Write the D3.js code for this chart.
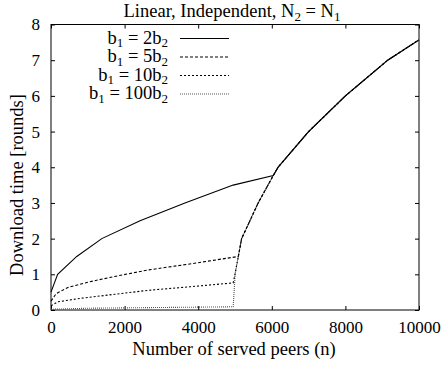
<!DOCTYPE html>
<style>
body { margin: 0; background: #fff; }
svg text { font-family: "Liberation Serif", "DejaVu Serif", serif; fill: #000; }
.axis .domain { display: none; }
.axis line { stroke: #000; }
.axis text { font-family: "Liberation Serif", "DejaVu Serif", serif; font-size: 17px; }
</style>
<svg width="443" height="365"></svg>
<script src="https://d3js.org/d3.v7.min.js"></script>
<script>

// values; every series shares the same tail once n > ~5000
var tailN = [5090, 5180, 5630, 6040, 6170, 7000, 8000, 9150, 10000],
    tailV = [1.5, 2.0, 3.0, 3.77, 4.0, 5.0, 6.0, 7.0, 7.57];

var n2 = [0, 180, 700, 1380, 2420, 3640, 4950, 6040, 6170, 7000, 8000, 9150, 10000],
    v2 = [0.5, 1.0, 1.5, 2.0, 2.5, 3.0, 3.5, 3.77, 4.0, 5.0, 6.0, 7.0, 7.57];

var n5 = [0, 140, 460, 1000, 1730, 2630, 3770].concat(tailN),
    v5 = [0.25, 0.46, 0.63, 0.78, 0.94, 1.12, 1.29].concat(tailV);

var n10 = [0, 190, 820, 1730, 2630, 3770, 4950, 5000].concat(tailN),
    v10 = [0.12, 0.23, 0.33, 0.44, 0.55, 0.65, 0.76, 1.0].concat(tailV);

var n100 = [0, 1000, 2500, 4950, 4990, 5000].concat(tailN),
    v100 = [0.02, 0.05, 0.065, 0.09, 0.75, 1.0].concat(tailV);

var labels = ["2", "5", "10", "100"];
var xTicks = [0, 2000, 4000, 6000, 8000, 10000],
    yTicks = [0, 1, 2, 3, 4, 5, 6, 7, 8];

var series = [
  {k: labels[0], n: n2, v: v2, dash: null, color: "#000"},
  {k: labels[1], n: n5, v: v5, dash: "3,2", color: "#000"},
  {k: labels[2], n: n10, v: v10, dash: "2,2", color: "#000"},
  {k: labels[3], n: n100, v: v100, dash: "1,1", color: "#555"}
];

var svg = d3.select("svg"),
    mLeft = 51, mRight = 419, mTop = 24.5, mBottom = 310;

var x = d3.scaleLinear().domain([0, 10000]).range([mLeft, mRight]);
var y = d3.scaleLinear().domain([0, 8]).range([mBottom, mTop]);

// title
var title = svg.append("text")
    .attr("x", 232).attr("y", 17)
    .attr("text-anchor", "middle")
    .style("font-size", "18.5px");
title.append("tspan").text("Linear, Independent, N");
title.append("tspan").attr("dy", 4).style("font-size", "13px").text("2");
title.append("tspan").attr("dy", -4).text(" = N");
title.append("tspan").attr("dy", 4).style("font-size", "13px").text("1");

// axes with inward, mirrored ticks
svg.append("g").attr("class", "axis")
    .attr("transform", "translate(0," + mBottom + ")")
    .call(d3.axisBottom(x).tickValues(xTicks).tickSizeInner(-4).tickSizeOuter(0).tickPadding(11).tickFormat(d3.format("d")));
svg.append("g").attr("class", "axis")
    .attr("transform", "translate(0," + mTop + ")")
    .call(d3.axisTop(x).tickValues(xTicks).tickSizeInner(-4).tickSizeOuter(0).tickFormat(""));
svg.append("g").attr("class", "axis")
    .attr("transform", "translate(" + mLeft + ",0)")
    .call(d3.axisLeft(y).tickValues(yTicks).tickSizeInner(-4).tickSizeOuter(0).tickPadding(11));
svg.append("g").attr("class", "axis")
    .attr("transform", "translate(" + mRight + ",0)")
    .call(d3.axisRight(y).tickValues(yTicks).tickSizeInner(-4).tickSizeOuter(0).tickFormat(""));

svg.append("rect")
    .attr("x", mLeft).attr("y", mTop)
    .attr("width", mRight - mLeft).attr("height", mBottom - mTop)
    .attr("fill", "none").attr("stroke", "#000");

svg.append("text")
    .attr("x", 234).attr("y", 355)
    .attr("text-anchor", "middle")
    .style("font-size", "18.5px")
    .text("Number of served peers (n)");

svg.append("text")
    .attr("transform", "translate(23,185) rotate(-90)")
    .attr("text-anchor", "middle")
    .style("font-size", "18.5px")
    .text("Download time [rounds]");

var line = d3.line().x(function(d) { return x(d[0]); }).y(function(d) { return y(d[1]); });

svg.selectAll(".curve")
  .data(series.slice().reverse())
  .enter().append("path")
    .attr("class", "curve")
    .attr("fill", "none")
    .attr("stroke", function(d) { return d.color; })
    .attr("stroke-width", 1.1)
    .attr("stroke-dasharray", function(d) { return d.dash; })
    .attr("d", function(d) { return line(d3.zip(d.n, d.v)); });

// legend
var legend = svg.selectAll(".legend")
  .data(series)
  .enter().append("g")
    .attr("class", "legend")
    .attr("transform", function(d, i) { return "translate(0," + (38.5 + i * 18.5) + ")"; });

legend.append("line")
    .attr("x1", 180).attr("x2", 229)
    .attr("stroke", function(d) { return d.color; })
    .attr("stroke-width", 1.1)
    .attr("stroke-dasharray", function(d) { return d.dash; });

var lt = legend.append("text")
    .attr("x", 168).attr("y", 5)
    .attr("text-anchor", "end")
    .style("font-size", "18.5px");
lt.append("tspan").text("b");
lt.append("tspan").attr("dy", 3.5).style("font-size", "13px").text("1");
lt.append("tspan").attr("dy", -3.5).text(function(d) { return " = " + d.k + "b"; });
lt.append("tspan").attr("dy", 3.5).style("font-size", "13px").text("2");

</script>
